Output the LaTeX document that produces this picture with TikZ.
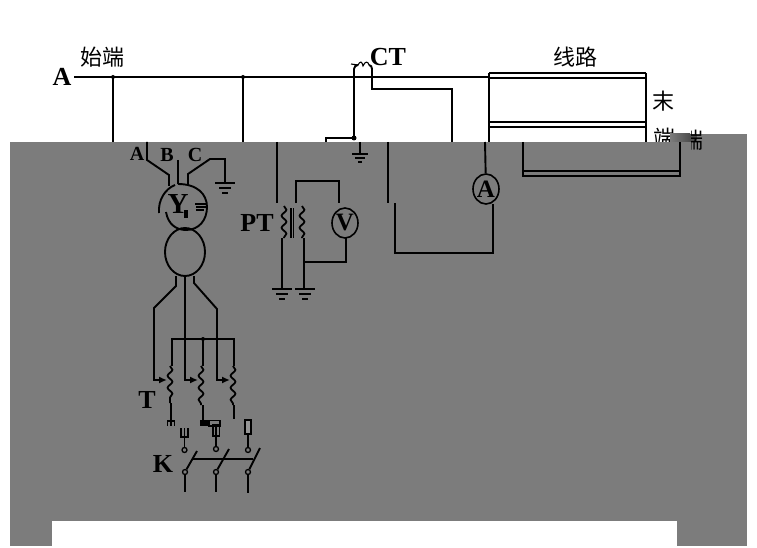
\documentclass[tikz,border=0pt]{standalone}
\usepackage{fontspec}
\setmainfont{Liberation Serif}
\newfontfamily\cjk{Noto Sans CJK SC}
\usetikzlibrary{decorations.pathmorphing,arrows.meta,shapes.geometric}
\definecolor{panel}{HTML}{7C7C7C}
\tikzset{
  wire/.style={line width=1.9pt,black,line join=miter},
  thin wire/.style={line width=1.1pt,black},
  lbl/.style={inner sep=0pt,font=\fontsize{26}{26}\selectfont\bfseries},
  small lbl/.style={inner sep=0pt,font=\fontsize{20}{20}\selectfont\bfseries},
  cjklbl/.style={inner sep=0pt,font=\fontsize{22}{22}\selectfont\cjk},
  meter/.style={draw,black,line width=1.6pt,ellipse,minimum width=26pt,minimum height=30pt,inner sep=0pt,font=\fontsize{25}{25}\selectfont\bfseries},
  dot/.style={circle,fill=black,inner sep=0pt,minimum size=5pt},
  term/.style={circle,draw=black,line width=1.3pt,inner sep=0pt,minimum size=5pt},
  coilw/.style={line width=1.8pt,black,decorate,decoration={snake,amplitude=2.4pt,segment length=12pt}},
  arr/.style={wire,-{Latex[length=8pt,width=7pt]}},
}
\newcommand{\gnd}[2]{%
  \draw[wire] (#1-10,#2) -- (#1+10,#2);
  \draw[wire] (#1-6,#2+5) -- (#1+6,#2+5);
  \draw[wire] (#1-3,#2+10) -- (#1+3,#2+10);
}
\begin{document}
\begin{tikzpicture}[x=1pt,y=-1pt]
\useasboundingbox (0,0) rectangle (757,548);
\fill[white] (0,0) rectangle (757,548);

% upper white part
\node[lbl] (lA) at (62,77) {A};
\node[cjklbl] (lstart) at (102,57) {始端};
\node[lbl] (lCT) at (388,57) {CT};
\node[cjklbl] (lline) at (575,57) {线路};
\node[cjklbl] (lend1) at (663,101) {末};
\node[cjklbl] (lend2) at (664,138) {端};

\coordinate (busL) at (74,77);
\coordinate (busR) at (489,77);
\node[dot,minimum size=4pt] (j1) at (113,77) {};
\node[dot,minimum size=4pt] (j2) at (243,77) {};
\draw[wire] (busL) -- (busR);
\draw[wire] (j1.center) -- (113,143);
\draw[wire] (j2.center) -- (243,143);

% CT
\node[dot] (j3) at (354,138) {};
\draw[wire] (326,143) -- (326,138) -- (j3.center);
\draw[wire] (j3.center) -- (354,69) to[out=90,in=180] (358,65);
\draw[thin wire] (351,64) -- (358,65) .. controls (360,61) and (362,61) .. (363,66) .. controls (365,61) and (368,61) .. (369,65);
\draw[wire] (369,65) to[out=0,in=90] (372,69) -- (372,89) -- (452,89) -- (452,143);

% line box
\draw[thin wire] (489,73) -- (646,73);
\draw[wire] (489,78) -- (646,78);
\draw[wire] (489,122) -- (646,122);
\draw[wire] (489,127) -- (646,127);
\draw[thin wire] (489,73) -- (489,143);
\draw[thin wire] (646,73) -- (646,143);

% grey panel
\fill[panel] (10,142) rectangle (747,546);
\fill[panel] (670,134) rectangle (747,142);
\shade[left color=panel,right color=black!70] (670,134) rectangle (690,142);
\fill[black!70] (690,134) rectangle (697,142);
\fill[white] (52,521) rectangle (677,548);
\begin{scope}
  \clip (691,130) rectangle (710,150);
  \node[cjklbl] (lend3) at (692,140) {端};
\end{scope}

% stubs continuing in the panel
\node[small lbl] (pA) at (137,154) {A};
\node[small lbl] (pB) at (167,155) {B};
\node[small lbl] (pC) at (195,155) {C};
\draw[wire] (147,142) -- (147,160) -- (169,175) -- (169,186);
\draw[wire] (178,160) -- (178,184);
\draw[wire] (188,185) -- (188,174) -- (210,159) -- (225,159) -- (225,183);
\gnd{225}{183}

% generator
\draw[wire] (175,185) .. controls (165,189) and (158,200) .. (159,213);
\draw[wire] (166,212) .. controls (168,224) and (176,230) .. (186,230)
  .. controls (199,230) and (207,220) .. (207,207)
  .. controls (207,194) and (197,184) .. (178,184);
\node[lbl,font=\fontsize{29}{29}\selectfont\bfseries] (lY) at (178,204) {Y};
\draw[line width=3.5pt] (186,210) -- (186,218);
\draw[thin wire] (195,204) -- (207,204);
\draw[thin wire] (196,207) -- (206,207);
\draw[thin wire] (196,210) -- (204,210);
\draw[wire] (185,252) ellipse[x radius=20,y radius=24];

% outputs
\draw[arr] (176,276) -- (176,286) -- (154,308) -- (154,380) -- (167,380);
\draw[arr] (185,276) -- (185,380) -- (198,380);
\draw[arr] (194,276) -- (194,283) -- (217,309) -- (217,380) -- (230,380);
\node[dot,minimum size=4pt] (j4) at (203,339) {};
\draw[wire] (172,366) -- (172,339) -- (234,339) -- (234,366);
\draw[wire] (j4.center) -- (203,366);
\draw[coilw] (170,366) -- (170,403);
\draw[coilw] (201,366) -- (201,405);
\draw[coilw] (233,366) -- (233,405);
\draw[wire] (171,403) -- (171,422);
\draw[wire] (203,405) -- (203,422);
\draw[wire] (234,405) -- (234,419);
\draw[thin wire] (167.5,426) -- (167.5,421) -- (174.5,421) -- (174.5,426) (171,421) -- (171,426);
\fill[black] (200,420) rectangle (209,426);
\draw[line width=1.3pt] (209,420.5) rectangle (220,426);
\node[lbl] (lT) at (147,400) {T};
\node[lbl] (lK) at (163,464) {K};

% fuses
\draw[thin wire] (181,428) -- (181,437) -- (188,437) -- (188,428) (184.5,428) -- (184.5,437);
\node[term] (t1) at (184.5,450) {};
\draw[wire] (184.5,437) -- (t1);
\draw[line width=1.4pt] (213,425) rectangle (219.5,436);
\draw[line width=1.4pt] (216,425) -- (216,436);
\node[term] (t2) at (216,449) {};
\draw[wire] (216,436) -- (t2);
\draw[line width=1.4pt,fill=panel!80] (245,420) rectangle (251,434);
\node[term] (t3) at (248,450) {};
\draw[wire] (248,434) -- (t3);

% switches
\node[term] (b1) at (185,472) {};
\node[term] (b2) at (216,472) {};
\node[term] (b3) at (248,472) {};
\coordinate (s1) at (197,451);
\coordinate (s2) at (229,449);
\coordinate (s3) at (260,448);
\draw[wire] (b1) -- (s1);
\draw[wire] (b2) -- (s2);
\draw[wire] (b3) -- (s3);
\draw[wire] (193,459) -- (253,459);
\draw[wire] (b1) -- (185,492);
\draw[wire] (b2) -- (216,492);
\draw[wire] (b3) -- (248,493);

% PT
\node[lbl] (lPT) at (257,223) {PT};
\draw[wire] (277,142) -- (277,203);
\draw[coilw] (284,206) -- (284,238);
\draw[line width=1.4pt] (291,208) -- (291,238) (293.5,208) -- (293.5,238);
\draw[coilw] (302,206) -- (302,238);
\draw[wire] (296,203) -- (296,181) -- (339,181) -- (339,203);
\node[meter] (mV) at (345,223) {V};
\draw[wire] (282,238) -- (282,289);
\draw[wire] (304,238) -- (304,289);
\draw[wire] (346,238) -- (346,262) -- (304,262);
\gnd{282}{289}
\gnd{305}{289}

% panel part of the CT circuit
\draw[wire] (360,142) -- (360,154);
\draw[wire] (352,154) -- (368,154);
\draw[wire] (355,158) -- (365,158);
\draw[wire] (358,162) -- (362,162);
\draw[wire] (388,142) -- (388,203);
\node[meter] (mA) at (486,189) {A};
\draw[wire] (485,142) -- (mA);
\draw[wire] (395,203) -- (395,253) -- (493,253) -- (493,204);

% line box lower part
\draw[wire] (523,142) -- (523,176) -- (680,176) -- (680,142);
\draw[wire] (523,171) -- (680,171);
\end{tikzpicture}
\end{document}
